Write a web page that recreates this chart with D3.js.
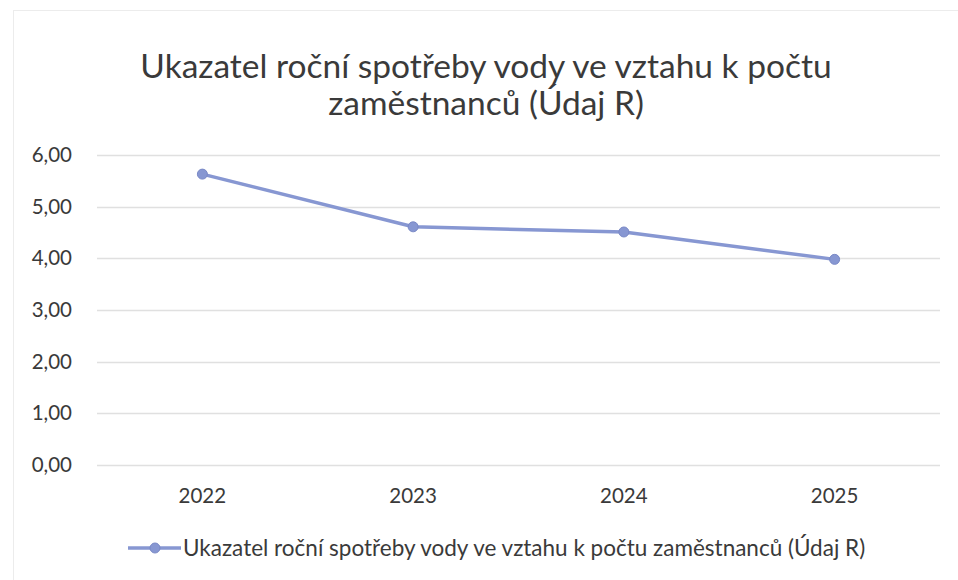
<!DOCTYPE html>
<html>
<head>
<meta charset="utf-8">
<script src="https://cdn.jsdelivr.net/npm/d3@7"></script>
<style>
    body { margin: 0; background: #fff; }
    svg text { font-family: Lato, "Open Sans", sans-serif; fill: #3a3a3a; }
</style>
</head>
<body>
<svg id="chart" width="958" height="580"></svg>
<script>
    // data
    const years = ["2022", "2023", "2024", "2025"];
    const values = [5.63, 4.61, 4.51, 3.98];
    const yTicks = [0, 1, 2, 3, 4, 5, 6];
    const titleLines = ["Ukazatel roční spotřeby vody ve vztahu k počtu", "zaměstnanců (Údaj R)"];
    const seriesName = "Ukazatel roční spotřeby vody ve vztahu k počtu zaměstnanců (Údaj R)";

    var svg = d3.select("#chart"),
        width = 958,
        height = 580,
        lineColor = "#8797d2";

    // faint chart frame
    svg.append("rect")
        .attr("x", 13.5).attr("y", 10.5)
        .attr("width", width).attr("height", height)
        .attr("fill", "none")
        .attr("stroke", "#ececec");

    // title
    svg.append("g")
        .selectAll("text")
        .data(titleLines)
        .enter()
        .append("text")
        .attr("x", 486)
        .attr("y", (d, i) => 78 + i * 37)
        .attr("text-anchor", "middle")
        .style("font-size", "33.5px")
        .text(d => d);

    var x = d3.scaleBand()
        .domain(years)
        .range([97, 940]);

    var y = d3.scaleLinear()
        .domain([0, 6])
        .range([465, 155]);

    // gridlines
    svg.append("g")
        .selectAll("line")
        .data(yTicks)
        .enter()
        .append("line")
        .attr("x1", 97).attr("x2", 940)
        .attr("y1", d => Math.round(y(d)) + 0.5)
        .attr("y2", d => Math.round(y(d)) + 0.5)
        .attr("stroke", "#e0e0e0")
        .attr("stroke-width", 1.5);

    // y axis labels
    svg.append("g")
        .selectAll("text")
        .data(yTicks)
        .enter()
        .append("text")
        .attr("x", 72)
        .attr("y", d => y(d) + 7)
        .attr("text-anchor", "end")
        .style("font-size", "20.5px")
        .text(d => d3.format(".2f")(d).replace(".", ","));

    // x axis labels
    svg.append("g")
        .selectAll("text")
        .data(years)
        .enter()
        .append("text")
        .attr("x", d => x(d) + x.bandwidth() / 2)
        .attr("y", 503)
        .attr("text-anchor", "middle")
        .style("font-size", "20.5px")
        .text(d => d);

    var line = d3.line()
        .x((d, i) => x(years[i]) + x.bandwidth() / 2)
        .y(d => y(d));

    svg.append("path")
        .datum(values)
        .attr("d", line)
        .attr("fill", "none")
        .attr("stroke", lineColor)
        .attr("stroke-width", 3.5)
        .attr("stroke-linejoin", "round");

    svg.append("g")
        .selectAll("circle")
        .data(values)
        .enter()
        .append("circle")
        .attr("cx", (d, i) => x(years[i]) + x.bandwidth() / 2)
        .attr("cy", d => y(d))
        .attr("r", 5)
        .attr("fill", lineColor)
        .attr("stroke", "#7a89c6")
        .attr("stroke-width", 1);

    // legend
    var legend = svg.append("g").attr("transform", "translate(128,548)");
    legend.append("line")
        .attr("x1", 0).attr("x2", 53)
        .attr("stroke", lineColor)
        .attr("stroke-width", 3.5);
    legend.append("circle")
        .attr("cx", 27).attr("r", 5)
        .attr("fill", lineColor)
        .attr("stroke", "#7a89c6");
    legend.append("text")
        .attr("x", 55)
        .attr("y", 8)
        .style("font-size", "22.5px")
        .text(seriesName);
</script>
</body>
</html>
